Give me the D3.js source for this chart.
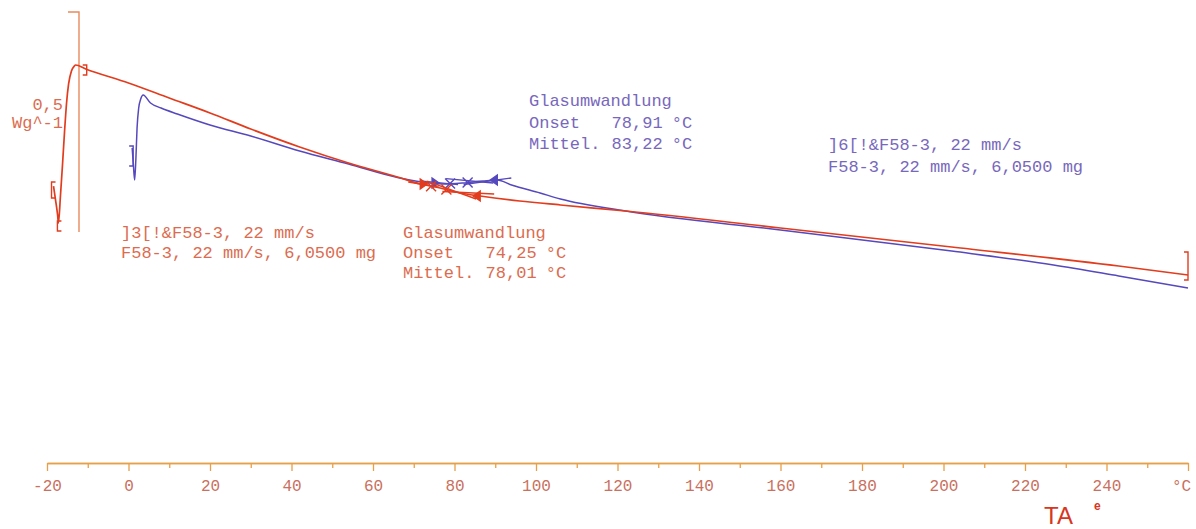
<!DOCTYPE html>
<html>
<head>
<meta charset="utf-8">
<script src="https://cdn.jsdelivr.net/npm/d3@7"></script>
<style>
  body { margin: 0; background: #ffffff; }
  svg { display: block; }
  .mono { font-family: "Liberation Mono", "DejaVu Sans Mono", monospace; }
</style>
</head>
<body>
<svg id="chart" width="1196" height="529"></svg>
<script>
// DSC heating curves of sample F58-3 (temperature in °C, heat flow in W/g)
const redTemp = [-18.4, -17.9, -17.4, -17.2, -16.7, -16.2, -15.7, -15.2, -14.7, -14.0, -13.3, -13.0, -10.5,
  0, 10, 20, 30, 42, 54, 66, 71.6, 76.5, 81.4, 86.3, 96, 106, 122, 160, 202, 243, 260];
const redFlow = [0.1045, 0.0727, 0.0386, 0.0205, 0.0818, 0.1523, 0.2273, 0.2932, 0.3364, 0.3659, 0.3773, 0.3795, 0.3705,
  0.3386, 0.3045, 0.2705, 0.2341, 0.1932, 0.1568, 0.1250, 0.1091, 0.1000, 0.0886, 0.0818, 0.0705, 0.0614, 0.0477,
  0.0091, -0.0341, -0.0773, -0.0977];

const blueTemp = [0.9, 1.2, 1.5, 1.8, 2.1, 2.5, 3.0, 3.6, 5.4, 8, 12, 20, 30, 42, 54, 66, 72, 77, 82, 87, 90.5, 94,
  101, 106, 122, 160, 202, 227, 243, 260];
const blueFlow = [0.1909, 0.1523, 0.1182, 0.1636, 0.2364, 0.2818, 0.3023, 0.3114, 0.2932, 0.2818, 0.2682, 0.2432,
  0.2182, 0.1841, 0.1545, 0.1239, 0.1136, 0.1091, 0.1114, 0.1159, 0.1182, 0.1068, 0.0886, 0.0750, 0.0477,
  0.0045, -0.0432, -0.0750, -0.1000, -0.1273];

// Glass transition evaluation (limits, onset, midpoint)
const redGlass = { limits: [71.6, 86.3], onset: 74.25, mid: 78.01 };
const blueGlass = { limits: [74.5, 90.5], onset: 78.91, mid: 83.22 };

// Temperature axis
const majorTicks = [-20, 0, 20, 40, 60, 80, 100, 120, 140, 160, 180, 200, 220, 240, 260];
const majorLabels = ["-20", "0", "20", "40", "60", "80", "100", "120", "140", "160", "180", "200", "220", "240", "°C"];
const minorTicks = [-10, 10, 30, 50, 70, 90, 110, 130, 150, 170, 190, 210, 230, 250];

// Annotation texts
const redCurveLabel = ["]3[!&F58-3, 22 mm/s", "F58-3, 22 mm/s, 6,0500 mg"];
const blueCurveLabel = ["]6[!&F58-3, 22 mm/s", "F58-3, 22 mm/s, 6,0500 mg"];
const redGlassRows = [["Onset", "74,25"], ["Mittel.", "78,01"]];
const blueGlassRows = [["Onset", "78,91"], ["Mittel.", "83,22"]];
const glassTitle = "Glasumwandlung";
const unitC = "°C";
const scaleValue = "0,5";
const scaleUnit = "Wg^-1";
const scaleBar = 0.5;

const RED = "#e23c1e", BLUE = "#5549bd";
const RED_TXT = "#dc6c50", BLUE_TXT = "#7868bc";
const AXIS = "#e6a04a", AXIS_TXT = "#c9705e";

const svg = d3.select("#chart");
const x = d3.scaleLinear().domain([-20, 260]).range([47, 1188]);
const y = d3.scaleLinear().domain([0, 0.5]).range([232, 12]);

// Temperature axis: minor and major ticks
const axisY = 463;
const minorAxis = d3.axisBottom(x).tickValues(minorTicks).tickSize(5).tickSizeOuter(0).tickFormat("");
const majorAxis = d3.axisBottom(x).tickValues(majorTicks).tickSize(8).tickSizeOuter(0)
  .tickPadding(9).tickFormat((d, i) => majorLabels[i]);
const gMin = svg.append("g").attr("transform", `translate(0,${axisY})`).call(minorAxis);
const gMaj = svg.append("g").attr("transform", `translate(0,${axisY})`).call(majorAxis);
[gMin, gMaj].forEach(g => {
  g.select(".domain").attr("stroke", AXIS).attr("stroke-width", 1.6);
  g.selectAll(".tick line").attr("stroke", AXIS).attr("stroke-width", 1.3);
});
gMaj.selectAll(".tick text").attr("fill", AXIS_TXT).attr("class", "mono").style("font-size", "16px");
gMaj.selectAll(".tick text").filter((d, i) => i === majorTicks.length - 1).attr("dx", "-7");

// Heat flow scale bar
const barX = 79;
svg.append("path")
  .attr("d", `M${barX - 11},${y(scaleBar)} H${barX} V${y(0)}`)
  .attr("fill", "none").attr("stroke", "#e88a5c").attr("stroke-width", 1.4);
svg.append("text").attr("class", "mono").attr("x", 63).attr("y", 110).attr("text-anchor", "end")
  .attr("fill", RED_TXT).style("font-size", "17px").text(scaleValue);
svg.append("text").attr("class", "mono").attr("x", 63).attr("y", 128).attr("text-anchor", "end")
  .attr("fill", RED_TXT).style("font-size", "17px").text(scaleUnit);

// Curves
const lineXY = d3.line().x(d => x(d[0])).y(d => y(d[1])).curve(d3.curveMonotoneX);
const redData = redTemp.map((t, i) => [t, redFlow[i]]);
const blueData = blueTemp.map((t, i) => [t, blueFlow[i]]);

svg.append("path").datum(blueData).attr("d", lineXY)
  .attr("fill", "none").attr("stroke", BLUE).attr("stroke-width", 1.5);
svg.append("path").datum(redData).attr("d", lineXY)
  .attr("fill", "none").attr("stroke", RED).attr("stroke-width", 1.7);

// value of a curve at a temperature (linear between points)
function at(temps, flows, t) {
  const i = Math.max(1, Math.min(temps.length - 1, d3.bisectLeft(temps, t)));
  const f = (t - temps[i - 1]) / (temps[i] - temps[i - 1]);
  return flows[i - 1] + f * (flows[i] - flows[i - 1]);
}

// Start / end brackets of each curve
function bracket(px, py, h, dir, color) {
  const w = 4 * dir;
  svg.append("path")
    .attr("d", `M${px + w},${py - h} H${px} V${py + h} H${px + w}`)
    .attr("fill", "none").attr("stroke", color).attr("stroke-width", 1.4);
}
bracket(x(redTemp[0]) - 2, y(redFlow[0]) + 4, 8, 1, RED);
bracket(x(redTemp[3]) - 1, y(redFlow[3]) + 3, 5, 1, RED);
bracket(x(redTemp[12]) + 1, y(redFlow[12]) + 1, 5, -1, RED);
bracket(x(blueTemp[0]) + 1, y(blueFlow[0]) + 8, 10, -1, BLUE);
bracket(x(redTemp[redTemp.length - 1]), y(redFlow[redFlow.length - 1]) - 9, 14, -1, RED);

// Glass transition markers
function glassMarks(g, temps, flows, color) {
  const [t0, t1] = g.limits;
  const p0 = [x(t0), y(at(temps, flows, t0))];
  const p1 = [x(t1), y(at(temps, flows, t1))];
  const pOn = [x(g.onset), y(at(temps, flows, g.onset))];
  const pMid = [x(g.mid), y(at(temps, flows, g.mid))];
  const s = svg.append("g").attr("stroke", color).attr("fill", "none").attr("stroke-width", 1.4);
  // tangents
  s.append("line").attr("x1", p0[0] - 12).attr("y1", p0[1] - 2).attr("x2", pOn[0] + 8).attr("y2", pOn[1] + 1);
  s.append("line").attr("x1", pOn[0] - 4).attr("y1", pOn[1] - 5).attr("x2", p1[0] - 4).attr("y2", p1[1] + 3);
  s.append("line").attr("x1", pMid[0] - 4).attr("y1", pMid[1] + 2).attr("x2", p1[0] + 14).attr("y2", p1[1] - 2);
  // limit triangles
  s.append("path").attr("fill", color)
    .attr("d", `M${p0[0]},${p0[1] - 5} L${p0[0] + 7},${p0[1]} L${p0[0]},${p0[1] + 5} Z`);
  s.append("path").attr("fill", color)
    .attr("d", `M${p1[0]},${p1[1] - 5} L${p1[0] - 7},${p1[1]} L${p1[0]},${p1[1] + 5} Z`);
  // onset cross
  s.append("path").attr("d",
    `M${pOn[0] - 5},${pOn[1] - 5} L${pOn[0] + 5},${pOn[1] + 5} M${pOn[0] - 5},${pOn[1] + 5} L${pOn[0] + 5},${pOn[1] - 5}`);
  // midpoint cross
  s.append("path").attr("d",
    `M${pMid[0] - 5},${pMid[1] - 5} L${pMid[0] + 5},${pMid[1] + 5} M${pMid[0] - 5},${pMid[1] + 5} L${pMid[0] + 5},${pMid[1] - 5}`);
}
glassMarks(blueGlass, blueTemp, blueFlow, BLUE);
glassMarks(redGlass, redTemp, redFlow, RED);

// Text annotations
const FS = 17, CW = 10.2;
function textBlock(x0, y0, lines, color, lh) {
  lines.forEach((t, i) => {
    svg.append("text").attr("class", "mono").attr("x", x0).attr("y", y0 + i * lh)
      .attr("fill", color).style("font-size", FS + "px").text(t);
  });
}
function glassBlock(x0, y0, rows, color, lh) {
  textBlock(x0, y0, [glassTitle], color, lh);
  rows.forEach((r, i) => {
    const yy = y0 + (i + 1) * lh;
    svg.append("text").attr("class", "mono").attr("x", x0).attr("y", yy)
      .attr("fill", color).style("font-size", FS + "px").text(r[0]);
    svg.append("text").attr("class", "mono").attr("x", x0 + 13.1 * CW).attr("y", yy).attr("text-anchor", "end")
      .attr("fill", color).style("font-size", FS + "px").text(r[1]);
    svg.append("text").attr("class", "mono").attr("x", x0 + 14 * CW).attr("y", yy)
      .attr("fill", color).style("font-size", FS + "px").text(unitC);
  });
}
textBlock(121, 238, redCurveLabel, RED_TXT, 20);
glassBlock(403, 238, redGlassRows, RED_TXT, 20);
glassBlock(529, 106, blueGlassRows, BLUE_TXT, 21.5);
textBlock(828, 150, blueCurveLabel, BLUE_TXT, 21.5);

// Logo
svg.append("text").attr("x", 1044).attr("y", 524).attr("fill", "#d8361e")
  .style("font-family", "'Liberation Sans', Arial, sans-serif").style("font-size", "24px").text("TA");
svg.append("text").attr("x", 1094).attr("y", 510).attr("fill", "#d8361e")
  .style("font-family", "'Liberation Sans', Arial, sans-serif").style("font-size", "12px").style("font-weight", "bold").text("e");
</script>
</body>
</html>
